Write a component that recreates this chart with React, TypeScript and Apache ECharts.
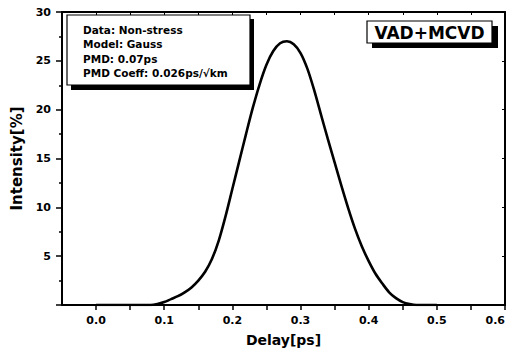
import React, { useEffect, useRef } from "react";
import * as echarts from "echarts";

const delay: number[] = [0.0, 0.08, 0.09, 0.1, 0.11, 0.12, 0.13, 0.14, 0.15, 0.16, 0.17, 0.18, 0.19, 0.2, 0.21, 0.22, 0.23, 0.24, 0.25, 0.26, 0.27, 0.28, 0.29, 0.3, 0.31, 0.32, 0.33, 0.34, 0.35, 0.36, 0.37, 0.38, 0.39, 0.4, 0.41, 0.42, 0.43, 0.44, 0.45, 0.46, 0.47, 0.5];
const intensity: number[] = [0, 0, 0.1, 0.3, 0.6, 0.9, 1.3, 1.8, 2.5, 3.4, 4.7, 6.6, 9.1, 11.9, 14.7, 17.5, 20.2, 22.6, 24.6, 26.0, 26.8, 27.0, 26.7, 25.8, 24.2, 22.0, 19.5, 17.0, 14.6, 12.2, 9.9, 7.8, 6.0, 4.5, 3.2, 2.2, 1.3, 0.7, 0.3, 0.1, 0, 0];
const infoLines: string[] = ["Data: Non-stress", "Model: Gauss", "PMD: 0.07ps", "PMD Coeff: 0.026ps/\u221Akm"];
const sampleLabel = "VAD+MCVD";
const xName = "Delay[ps]";
const yName = "Intensity[%]";

const FONT = "'DejaVu Sans', sans-serif";

export default function App() {
  const ref = useRef<HTMLDivElement>(null);
  useEffect(() => {
    if (!ref.current) return;
    const chart = echarts.init(ref.current, null, { renderer: "svg" });
    const axisLine = { show: true, onZero: false, lineStyle: { color: "#000", width: 2 } };
    const lbl = { color: "#000", fontFamily: FONT, fontWeight: "bold" as const, fontSize: 11 };
    chart.setOption({
      animation: false,
      backgroundColor: "#fff",
      grid: { left: 62, right: 6, top: 12, bottom: 50, show: false, containLabel: false, outerBoundsMode: "none" },
      xAxis: [
        {
          type: "value", min: -0.05, max: 0.6, interval: 0.05, position: "bottom",
          name: xName, nameLocation: "middle", nameGap: 28,
          nameTextStyle: { color: "#000", fontFamily: FONT, fontWeight: "bold", fontSize: 14 },
          axisLine, splitLine: { show: false },
          axisTick: { show: true, inside: false, length: 5, lineStyle: { color: "#000", width: 1.5 } },
          axisLabel: {
            ...lbl, margin: 10, showMinLabel: false, showMaxLabel: true, alignMaxLabel: "right",
            formatter: (v: number) => { const k = Math.round(v * 100); return k % 10 === 0 && k >= 0 ? (k / 100).toFixed(1) : ""; },
          },
        },
        {
          type: "value", min: -0.05, max: 0.6, interval: 0.05, position: "top",
          axisLine, splitLine: { show: false },
          axisTick: { show: true, inside: true, length: 3, lineStyle: { color: "#000", width: 1 } },
          axisLabel: { show: false },
        },
      ],
      yAxis: [
        {
          type: "value", min: 0, max: 30, interval: 5, position: "left",
          name: yName, nameLocation: "middle", nameGap: 38,
          nameTextStyle: { color: "#000", fontFamily: FONT, fontWeight: "bold", fontSize: 15 },
          axisLine, splitLine: { show: false },
          axisTick: { show: true, inside: false, length: 6, lineStyle: { color: "#000", width: 1.5 } },
          minorTick: { show: true, splitNumber: 2, length: 3, lineStyle: { color: "#000", width: 1.5 } },
          axisLabel: { ...lbl, margin: 11, formatter: (v: number) => (v === 0 ? "" : String(v)) },
        },
        {
          type: "value", min: 0, max: 30, interval: 5, position: "right",
          axisLine, splitLine: { show: false },
          axisTick: { show: true, inside: true, length: 3, lineStyle: { color: "#000", width: 1 } },
          axisLabel: { show: false },
        },
      ],
      series: [
        {
          type: "line", xAxisIndex: 0, yAxisIndex: 0,
          data: delay.map((d, i) => [d, intensity[i]]),
          smooth: 0.3, showSymbol: false, symbol: "none",
          lineStyle: { color: "#000", width: 2.6 }, clip: true,
        },
      ],
      graphic: [
        { type: "rect", shape: { x: 71, y: 19, width: 183, height: 71 }, style: { fill: "#000" } },
        { type: "rect", shape: { x: 67, y: 15, width: 183, height: 70 }, style: { fill: "#fff", stroke: "#000", lineWidth: 1.2 } },
        ...infoLines.map((t, i) => ({
          type: "text", x: 83, y: 30 + i * 14.3,
          style: { text: t, fill: "#000", font: `bold 10.5px ${FONT}`, verticalAlign: "middle", textAlign: "left" },
        })),
        { type: "rect", shape: { x: 372, y: 26, width: 126, height: 22 }, style: { fill: "#000" } },
        { type: "rect", shape: { x: 367, y: 21, width: 125, height: 22 }, style: { fill: "#fff", stroke: "#000", lineWidth: 1.2 } },
        {
          type: "text", x: 429.5, y: 32.5,
          style: { text: sampleLabel, fill: "#000", font: `bold 17px ${FONT}`, verticalAlign: "middle", textAlign: "center" },
        },
      ],
    });
    return () => chart.dispose();
  }, []);
  return <div ref={ref} style={{ position: "fixed", left: 0, top: 0, width: 511, height: 355, background: "#fff" }} />;
}
